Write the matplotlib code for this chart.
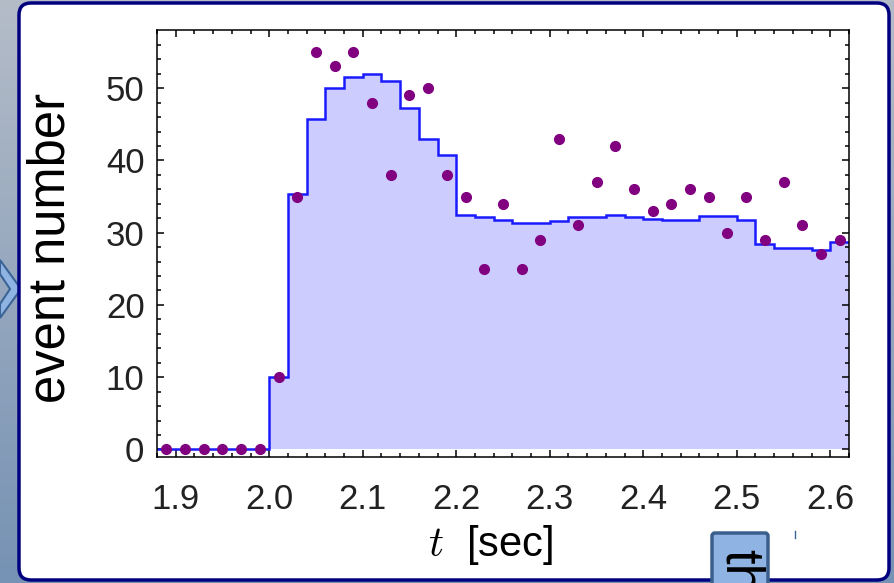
import numpy as np
import matplotlib
matplotlib.use("Agg")
import matplotlib.pyplot as plt
from matplotlib.patches import FancyBboxPatch, Polygon
from matplotlib.transforms import IdentityTransform
from matplotlib.lines import Line2D

plt.rcParams['font.family'] = ['Liberation Sans', 'DejaVu Sans']
plt.rcParams['mathtext.fontset'] = 'cm'

# ---- data ----
bin_edges = np.round(np.arange(1.88, 2.6201, 0.02), 2)
hist_values = [0, 0, 0, 0, 0, 0,
               10, 35.3, 45.8, 50.0, 51.6, 52.0, 51.0, 47.3, 42.9, 40.8,
               32.5, 32.1, 31.8, 31.3, 31.4, 31.6, 32.1, 32.2, 32.5, 32.1,
               31.9, 31.7, 31.7, 32.3, 32.3, 31.7,
               28.5, 27.9, 27.9, 27.6, 28.7]
point_t = np.round(np.arange(1.89, 2.6101, 0.02), 2)
point_counts = [0, 0, 0, 0, 0, 0,
                10, 35, 55, 53, 55, 48, 38, 49, 50, 38,
                35, 25, 34, 25, 29, 43, 31, 37, 42, 36,
                33, 34, 36, 35, 30, 35, 29, 37, 31, 27, 29]
x_ticks = [1.9, 2.0, 2.1, 2.2, 2.3, 2.4, 2.5, 2.6]
y_ticks = [0, 10, 20, 30, 40, 50]

W, H = 894, 583
fig = plt.figure(figsize=(W / 100, H / 100), dpi=100)

# background gradient
bg = fig.add_axes([0, 0, 1, 1], zorder=-10)
grad = np.linspace(0, 1, 256)[:, None]
c_top = np.array([180, 188, 200]) / 255
c_bot = np.array([118, 146, 180]) / 255
img = c_top[None, None, :] * (1 - grad[:, :, None]) + c_bot[None, None, :] * grad[:, :, None]
bg.imshow(img, aspect='auto', extent=[0, 1, 0, 1])
bg.set_axis_off()

# chevron on the left
chev = Polygon([(0, H - 260), (21, H - 289), (0, H - 318), (0, H - 304), (10, H - 289), (0, H - 274)],
               closed=True, facecolor='#8fb4e3', edgecolor='#3b6496', lw=1.5,
               transform=IdentityTransform(), zorder=-5)
fig.patches.append(chev)

# white rounded panel
panel = FancyBboxPatch((19 + 12, 3 + 12), (889 - 19) - 24, (580 - 3) - 24,
                       boxstyle="round,pad=12", facecolor='white', edgecolor='#00007f', lw=2.5,
                       transform=IdentityTransform(), zorder=-4)
fig.patches.append(panel)

# small box with rotated text at the bottom
sbox = FancyBboxPatch((712 + 3, -20), 56 - 6, (H - 533) + 20 - 3,
                      boxstyle="round,pad=3", facecolor='#8fb4e3', edgecolor='#3a5f8c', lw=2.5,
                      transform=IdentityTransform(), zorder=5)
fig.patches.append(sbox)
fig.text(740 / W, 1 - 549 / H, 'th', rotation=-90, fontsize=38, ha='center', va='top',
         color='black', zorder=6)
fig.lines.append(Line2D([795, 795], [H - 531, H - 538], color='#3b6496', lw=1,
                        transform=IdentityTransform()))

# main axes
ax = fig.add_axes([157 / W, 1 - 457 / H, (849 - 157) / W, (457 - 30) / H])
ax.stairs(hist_values, bin_edges, baseline=0, fill=True, color='#ccccff', zorder=1)
ax.stairs(hist_values, bin_edges, baseline=None, color='#1a1aff', lw=1.8, zorder=2)
ax.plot(point_t, point_counts, 'o', color='#800080', ms=7, zorder=3, clip_on=False)

ax.set_xlim(1.885, 2.612)
ax.set_ylim(-1.05, 58.05)
ax.set_xticks(x_ticks)
ax.set_xticklabels([f"{v:.1f}" for v in x_ticks])
ax.set_yticks(y_ticks)
ax.set_xticks(np.arange(1.88, 2.621, 0.02), minor=True)
ax.set_yticks(np.arange(0, 58, 2), minor=True)
ax.tick_params(which='both', direction='in', top=True, right=True, width=1.1, color='black',
               labelcolor='#222222')
ax.tick_params(which='major', length=5)
ax.tick_params(which='minor', length=2.8)
ax.tick_params(axis='x', which='major', pad=19, labelsize=25)
ax.tick_params(axis='y', which='major', pad=9, labelsize=25)
for s in ax.spines.values():
    s.set_linewidth(1.1)

fig.text(51 / W, 1 - 248 / H, 'event number', rotation=90, fontsize=36.5, ha='center', va='center')
fig.text(491 / W, 1 - 545 / H, r'$t$  [sec]', fontsize=30, ha='center', va='center')

fig.savefig('out.png', dpi=100)
